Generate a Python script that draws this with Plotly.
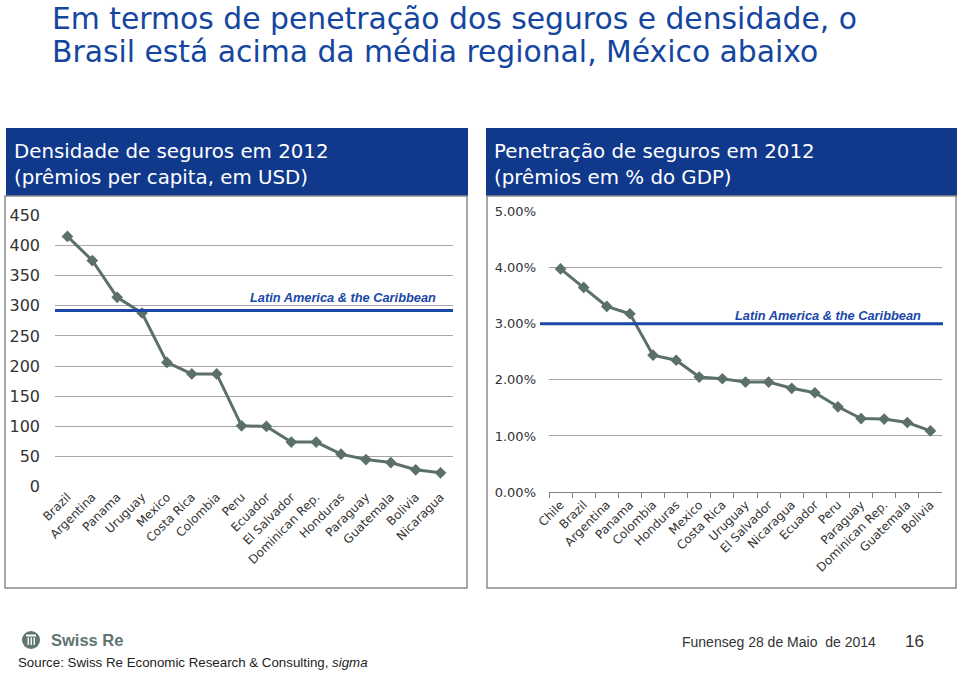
import plotly.graph_objects as go

W, H = 960, 673

# ---------- data ----------
dens_countries = ["Brazil", "Argentina", "Panama", "Uruguay", "Mexico", "Costa Rica", "Colombia",
                  "Peru", "Ecuador", "El Salvador", "Dominican Rep.", "Honduras", "Paraguay",
                  "Guatemala", "Bolivia", "Nicaragua"]
dens_values = [415, 375, 314, 288, 206, 187, 187, 101, 100, 74, 74, 54, 45, 40, 28, 23]
dens_latam = 292
dens_ticks = [0, 50, 100, 150, 200, 250, 300, 350, 400, 450]

pen_countries = ["Chile", "Brazil", "Argentina", "Panama", "Colombia", "Honduras", "Mexico",
                 "Costa Rica", "Uruguay", "El Salvador", "Nicaragua", "Ecuador", "Peru",
                 "Paraguay", "Dominican Rep.", "Guatemala", "Bolivia"]
pen_values = [3.98, 3.65, 3.31, 3.18, 2.44, 2.35, 2.05, 2.02, 1.96, 1.96, 1.85, 1.77, 1.52,
              1.31, 1.30, 1.24, 1.09]
pen_latam = 3.0
pen_ticks = [0, 1, 2, 3, 4, 5]
pen_ticklabels = ["0.00%", "1.00%", "2.00%", "3.00%", "4.00%", "5.00%"]

title_lines = ["Em termos de penetração dos seguros e densidade, o",
               "Brasil está acima da média regional, México abaixo"]

LINE = "#5c706b"
BLUE_HDR = "#10398c"
BLUE_LINE = "#1a47a8"
TITLE_BLUE = "#1446a0"
GRID = "#a6a6a6"
FONT = "DejaVu Sans"
FONT2 = "Liberation Sans"


def px(x):
    return x / W


def py(y):
    return 1 - y / H


fig = go.Figure()

fig.add_trace(go.Scatter(
    x=dens_countries, y=dens_values, mode="lines+markers", xaxis="x", yaxis="y",
    line=dict(color=LINE, width=3), marker=dict(symbol="diamond", size=9, color=LINE),
    showlegend=False, hoverinfo="x+y"))

fig.add_trace(go.Scatter(
    x=pen_countries, y=pen_values, mode="lines+markers", xaxis="x2", yaxis="y2",
    line=dict(color=LINE, width=3), marker=dict(symbol="diamond", size=9, color=LINE),
    showlegend=False, hoverinfo="x+y"))

shapes = []
# header boxes
shapes.append(dict(type="rect", xref="paper", yref="paper", x0=px(6), x1=px(468), y0=py(196), y1=py(128),
                   fillcolor=BLUE_HDR, line=dict(width=0), layer="below"))
shapes.append(dict(type="rect", xref="paper", yref="paper", x0=px(486), x1=px(957), y0=py(196), y1=py(128),
                   fillcolor=BLUE_HDR, line=dict(width=0), layer="below"))
# panel frames
shapes.append(dict(type="rect", xref="paper", yref="paper", x0=px(5), x1=px(467), y0=py(588), y1=py(196),
                   fillcolor="rgba(0,0,0,0)", line=dict(color="#8a8a8a", width=1.5), layer="below"))
shapes.append(dict(type="rect", xref="paper", yref="paper", x0=px(487), x1=px(956), y0=py(588), y1=py(196),
                   fillcolor="rgba(0,0,0,0)", line=dict(color="#8a8a8a", width=1.5), layer="below"))
# regional average lines
shapes.append(dict(type="line", xref="x domain", yref="y", x0=0, x1=1, y0=dens_latam, y1=dens_latam,
                   line=dict(color=BLUE_LINE, width=3)))
shapes.append(dict(type="line", xref="paper", yref="y2", x0=px(540), x1=px(943), y0=pen_latam, y1=pen_latam,
                   line=dict(color=BLUE_LINE, width=3)))
# Swiss Re logo
shapes.append(dict(type="circle", xref="paper", yref="paper", x0=px(22), x1=px(40), y0=py(649), y1=py(631),
                   fillcolor="#5f7570", line=dict(width=0)))
shapes.append(dict(type="rect", xref="paper", yref="paper", x0=px(26), x1=px(36), y0=py(636.5), y1=py(634.5),
                   fillcolor="white", line=dict(width=0)))
for cx in (27.5, 30.5, 33.5):
    shapes.append(dict(type="rect", xref="paper", yref="paper", x0=px(cx), x1=px(cx + 1.4), y0=py(645), y1=py(637.5),
                       fillcolor="white", line=dict(width=0)))

annotations = []
for i, line_txt in enumerate(title_lines):
    annotations.append(dict(xref="paper", yref="paper", x=px(50), y=py(18 + 34 * i), xanchor="left",
                            yanchor="middle", text=line_txt, showarrow=False, align="left",
                            font=dict(family=FONT, size=29.8, color=TITLE_BLUE)))
annotations.append(dict(xref="paper", yref="paper", x=px(12), y=py(164), xanchor="left", yanchor="middle",
                        text="Densidade de seguros em 2012<br>(prêmios per capita, em USD)",
                        showarrow=False, align="left",
                        font=dict(family=FONT, size=19.8, color="white")))
annotations.append(dict(xref="paper", yref="paper", x=px(492), y=py(164), xanchor="left", yanchor="middle",
                        text="Penetração de seguros em 2012<br>(prêmios em % do GDP)",
                        showarrow=False, align="left",
                        font=dict(family=FONT, size=19.8, color="white")))
annotations.append(dict(xref="paper", yref="paper", x=px(438), y=py(297), xanchor="right", yanchor="middle",
                        text="<b><i>Latin America & the Caribbean</i></b>", showarrow=False,
                        font=dict(family=FONT2, size=12.8, color=BLUE_LINE)))
annotations.append(dict(xref="paper", yref="paper", x=px(923), y=py(315), xanchor="right", yanchor="middle",
                        text="<b><i>Latin America & the Caribbean</i></b>", showarrow=False,
                        font=dict(family=FONT2, size=12.8, color=BLUE_LINE)))
annotations.append(dict(xref="paper", yref="paper", x=px(49), y=py(640), xanchor="left", yanchor="middle",
                        text="<b>Swiss Re</b>", showarrow=False,
                        font=dict(family=FONT2, size=16.5, color="#5f7570")))
annotations.append(dict(xref="paper", yref="paper", x=px(16), y=py(662), xanchor="left", yanchor="middle",
                        text="Source: Swiss Re Economic Research & Consulting, <i>sigma</i>", showarrow=False,
                        font=dict(family=FONT2, size=13.3, color="#222222")))
annotations.append(dict(xref="paper", yref="paper", x=px(680), y=py(642), xanchor="left", yanchor="middle",
                        text="Funenseg 28 de Maio  de 2014", showarrow=False,
                        font=dict(family=FONT2, size=14, color="#333333")))
annotations.append(dict(xref="paper", yref="paper", x=px(903), y=py(641), xanchor="left", yanchor="middle",
                        text="16", showarrow=False,
                        font=dict(family=FONT2, size=17, color="#333333")))

fig.update_layout(
    width=W, height=H, margin=dict(l=0, r=0, t=0, b=0, autoexpand=False),
    paper_bgcolor="white", plot_bgcolor="rgba(0,0,0,0)",
    font=dict(family=FONT, color="#333333"),
    shapes=shapes, annotations=annotations,
    xaxis=dict(domain=[px(55), px(453)], anchor="y", type="category", automargin=False,
               range=[-0.5, len(dens_countries) - 0.5],
               tickangle=-45, showgrid=False, zeroline=False, showline=False, ticks="",
               tickfont=dict(family=FONT, size=12, color="#333333")),
    yaxis=dict(domain=[py(486.7), py(215.3)], anchor="x", range=[0, 450], automargin=False,
               tickvals=dens_ticks, ticks="", showline=False, zeroline=False,
               showgrid=True, gridcolor=GRID, gridwidth=1.2, ticklabelstandoff=14,
               tickfont=dict(family=FONT, size=16, color="#333333")),
    xaxis2=dict(domain=[px(549), px(942)], anchor="y2", type="category", automargin=False,
                range=[-0.5, len(pen_countries) - 0.5],
                tickangle=-45, showgrid=False, zeroline=False, showline=True,
                linecolor="#808080", linewidth=1.2, ticks="outside", tickson="boundaries",
                ticklen=5, tickcolor="#808080",
                tickfont=dict(family=FONT, size=12, color="#333333")),
    yaxis2=dict(domain=[py(492), py(211.7)], anchor="x2", range=[0, 5], automargin=False,
                tickvals=pen_ticks, ticktext=pen_ticklabels, ticks="", showline=False, zeroline=False,
                showgrid=True, gridcolor=GRID, gridwidth=1.2, ticklabelstandoff=12,
                tickfont=dict(family=FONT, size=13, color="#333333")),
)

fig.write_html("out.html", config={"displayModeBar": False},
               post_script="document.body.style.margin='0px';document.body.style.overflow='hidden';")
